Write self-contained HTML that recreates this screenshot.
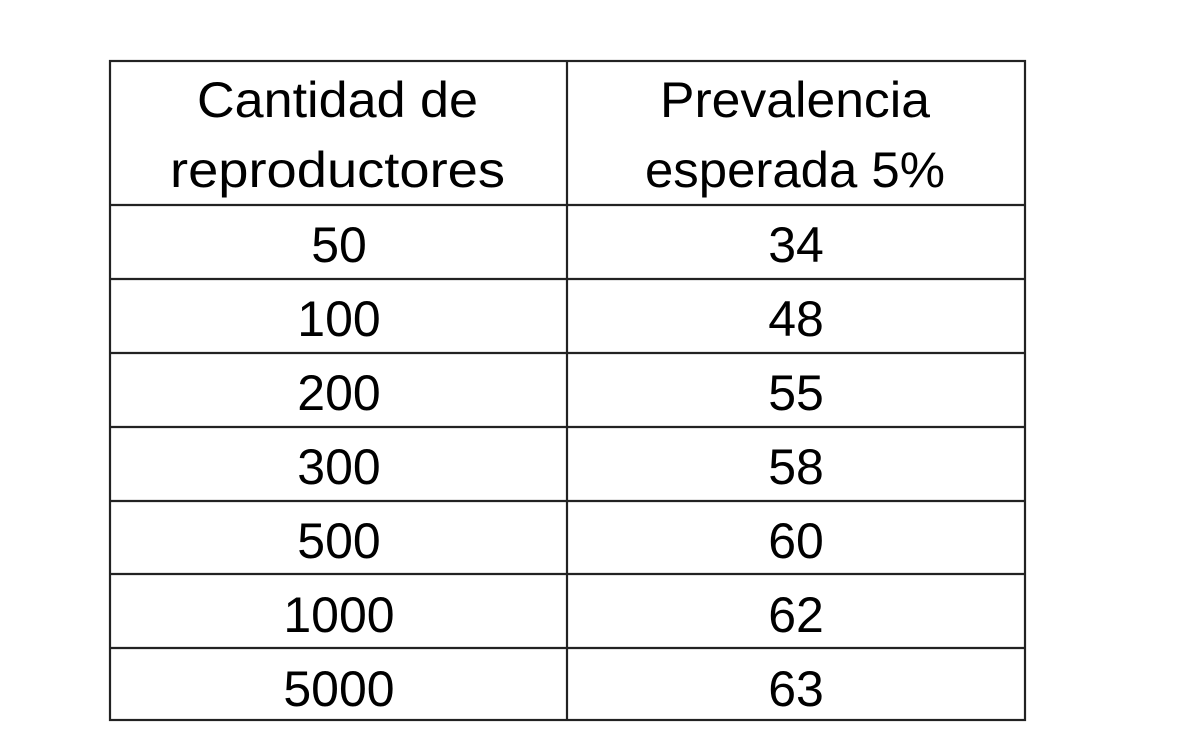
<!DOCTYPE html>
<html><head><meta charset="utf-8"><style>
html,body{margin:0;padding:0;background:#fff;}
svg{display:block;}
text{font-family:"Liberation Sans",sans-serif;font-size:50px;fill:#000;}
</style></head><body>
<svg width="1179" height="741" viewBox="0 0 1179 741" xmlns="http://www.w3.org/2000/svg">
<rect x="0" y="0" width="1179" height="741" fill="#fff"/>
<g stroke="#222" stroke-width="2.2" fill="none">
<rect x="110" y="61" width="915" height="659"/>
<line x1="567" y1="61" x2="567" y2="720"/>
<line x1="110" y1="205" x2="1025" y2="205"/>
<line x1="110" y1="279" x2="1025" y2="279"/>
<line x1="110" y1="353" x2="1025" y2="353"/>
<line x1="110" y1="427" x2="1025" y2="427"/>
<line x1="110" y1="501" x2="1025" y2="501"/>
<line x1="110" y1="574" x2="1025" y2="574"/>
<line x1="110" y1="648" x2="1025" y2="648"/>
</g>
<text x="197" y="117" textLength="281" lengthAdjust="spacingAndGlyphs">Cantidad de</text>
<text x="170" y="187" textLength="335" lengthAdjust="spacingAndGlyphs">reproductores</text>
<text x="660" y="117" textLength="270" lengthAdjust="spacingAndGlyphs">Prevalencia</text>
<text x="645" y="187" textLength="300" lengthAdjust="spacingAndGlyphs">esperada 5%</text>
<g text-anchor="middle">
<text x="339" y="262">50</text><text x="796" y="262">34</text>
<text x="339" y="336">100</text><text x="796" y="336">48</text>
<text x="339" y="410">200</text><text x="796" y="410">55</text>
<text x="339" y="484">300</text><text x="796" y="484">58</text>
<text x="339" y="558">500</text><text x="796" y="558">60</text>
<text x="339" y="632">1000</text><text x="796" y="632">62</text>
<text x="339" y="706">5000</text><text x="796" y="706">63</text>
</g>
</svg>
</body></html>
